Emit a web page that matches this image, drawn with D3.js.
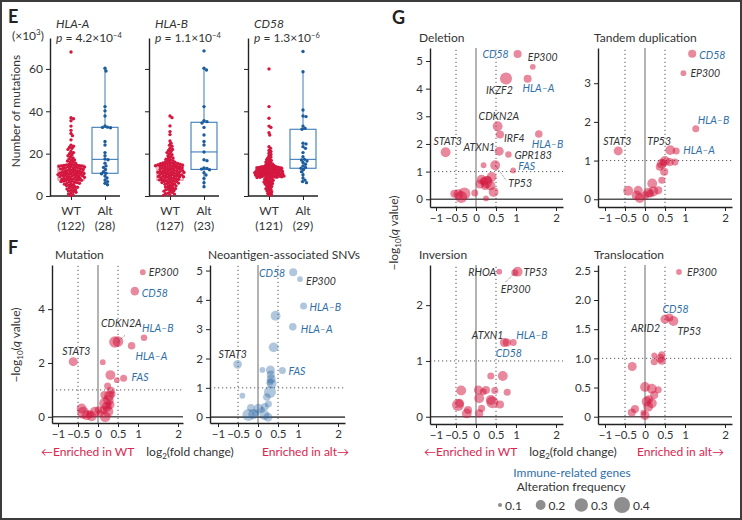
<!DOCTYPE html>
<html><head><meta charset="utf-8">
<script src="https://cdn.jsdelivr.net/npm/d3@7"></script>
<style>
body{margin:0;background:#fff}
svg{display:block;font-family:Lato,"Open Sans","DejaVu Sans",sans-serif}
</style></head>
<body><svg id="c" width="742" height="520"></svg>
<script>
// ---------- DATA: panel E (number of mutations, x10^3) ----------
const boxGenes = ["HLA-A", "HLA-B", "CD58"];
const boxPMant = ["4.2", "1.1", "1.3"];
const boxPExp = ["−4", "−4", "−6"];
const boxGroups = ["WT", "Alt"];
const nWT = [122, 127, 121];
const nAlt = [28, 23, 29];
const wtHLAA = [68,37,36.5,35.5,33,31,29.5,28.5,26.5,24,23.5,23,22.5,22,21,20.5,20,19.5,19,18.5,18,17.5,17,17,16.5,16,16,15.5,15,14.9,14.7,
 7.5,7.6,7.8,7.9,8.1,8.2,8.2,8.4,8.6,8.7,8.8,9.0,9.1,9.1,9.3,9.4,9.5,9.6,9.8,9.9,10.0,10.1,10.1,10.3,10.4,10.5,10.6,10.6,10.8,10.9,
 11.0,11.1,11.2,11.4,11.5,11.6,11.7,11.9,12.0,12.1,12.3,12.4,12.5,12.7,12.8,12.9,13.0,13.2,13.3,13.4,13.5,13.7,13.8,13.9,14.0,14.1,14.2,14.3,14.4,14.5,14.5,
 7.4,7.3,7.1,7.0,6.8,6.7,6.5,6.3,6.1,6.0,5.8,5.6,5.3,5.1,4.9,4.6,4.4,4.1,3.9,3.6,3.3,3.0,2.7,2.4,2.1,1.8,1.4,1.0,0.6,0.2];
const altHLAA = [5.3,6.0,6.8,7.5,8.5,9.5,10.5,10.8,11.5,12.5,13.5,14.2,15.5,17.1,17.5,19,20.5,24.1,25.7,32.2,32.4,32.5,33.1,37.8,40.2,42.2,59,60.3];
const wtHLAB = [37.8,37,33.1,30.4,29,26,24.9,24,23.5,22.5,22,21.5,21,20.5,20,19.5,19,18.5,18,17.8,17.4,17,16.7,16.5,16.2,16,15.8,15.6,15.5,15.4,15.3,15.2,
 7.6,7.7,7.9,8.0,8.2,8.3,8.4,8.6,8.7,8.9,9.0,9.1,9.2,9.4,9.5,9.6,9.7,9.9,10.0,10.1,10.2,10.4,10.5,10.6,10.7,10.8,11.0,11.1,11.2,11.3,
 11.5,11.6,11.7,11.8,12.0,12.1,12.2,12.4,12.5,12.6,12.8,12.9,13.0,13.1,13.3,13.4,13.5,13.6,13.8,13.9,14.0,14.1,14.2,14.3,14.4,14.5,14.6,14.7,14.8,14.9,15.0,9.3,11.4,
 7.4,7.2,7.1,6.9,6.8,6.6,6.4,6.2,6.1,5.9,5.7,5.5,5.2,5.0,4.8,4.5,4.3,4.0,3.8,3.5,3.2,2.9,2.6,2.3,2.0,1.7,1.3,0.9,0.5,0.3,1.1,3.0];
const altHLAB = [4.4,6.3,8.3,9.9,11.0,12.4,12.7,13.0,13.3,16.7,17.1,20.8,24.1,25.7,28.8,32.4,34.5,35.1,35.6,42.2,59.5,60.3,68.5];
const wtCD58 = [60,42.2,36.7,33,32.4,29.9,28.8,23.3,22.5,21.5,21,20.2,19.6,19,18.4,18,17.5,17.1,16.8,16.4,16,15.7,15.4,15.1,14.8,14.6,14.4,14.2,14.0,13.9,
 8.8,8.9,9.0,9.1,9.1,9.2,9.3,9.4,9.5,9.5,9.6,9.7,9.8,9.9,10.0,10.0,10.1,10.2,10.3,10.4,10.4,10.5,10.6,10.7,10.8,10.9,11.0,11.0,11.1,11.2,
 11.3,11.4,11.5,11.6,11.6,11.7,11.8,11.9,12.0,12.1,12.2,12.2,12.3,12.4,12.5,12.6,12.7,12.8,12.8,12.9,13.0,13.1,13.2,13.3,13.4,13.4,13.5,13.6,13.7,13.8,13.8,
 8.7,8.5,8.3,8.1,7.9,7.6,7.4,7.1,6.8,6.6,6.3,6.0,5.7,5.4,5.1,4.8,4.5,4.1,3.8,3.4,3.1,2.7,2.4,2.0,1.6,1.2,0.8,0.4,5.9,7.0];
const altCD58 = [6.3,6.8,7.5,8.5,10,11.5,12.5,13.1,13.5,14.2,15,15.8,16.5,17,17.3,18.5,20.5,22.5,23.3,24.6,24.9,31.5,32,33,37.5,37.8,40.6,58.7,68.2];
const eYTicks = [0, 20, 40, 60];

// ---------- DATA: volcano plots [log2FC, -log10 q, alteration frequency, gene] ----------
const mutationPts = [[1.12,5.37,0.12,"EP300"],[0.92,4.67,0.17,"CD58"],[1.15,2.94,0.13,"HLA–B"],[0.42,2.78,0.24,""],[0.5,2.8,0.22,"CDKN2A"],
 [0.84,2.64,0.15,"HLA–A"],[-0.62,2.05,0.18,"STAT3"],[0.12,2.03,0.12,""],[0.64,1.43,0.14,"FAS"],[0.31,1.55,0.2,""],[0.47,1.36,0.12,""],
 [0.24,1.14,0.14,""],[0.32,0.97,0.16,""],[0.16,0.81,0.16,""],[0.28,0.78,0.2,""],[0.26,0.62,0.22,""],[0.18,0.5,0.26,""],[0.3,0.45,0.18,""],
 [0.22,0.37,0.2,""],[0.14,0.25,0.16,""],[0.25,0.2,0.22,""],[-0.41,0.31,0.2,""],[-0.37,0.15,0.26,""],[-0.28,0.06,0.2,""],[-0.16,0.02,0.2,""],
 [-0.08,0.19,0.2,""],[0.01,0.25,0.15,""],[0.18,0.0,0.22,""],[-0.2,0.1,0.15,""],[0.05,0.12,0.14,""],[0.35,0.85,0.14,""]];
const neoPts = [[0.88,4.94,0.16,"CD58"],[1.05,4.71,0.12,"EP300"],[1.14,3.79,0.14,"HLA–B"],[0.44,3.46,0.2,""],[0.87,3.08,0.15,"HLA–A"],
 [0.39,2.38,0.2,""],[-0.51,1.8,0.17,"STAT3"],[0.61,1.59,0.14,"FAS"],[0.11,1.61,0.12,""],[0.31,1.61,0.18,""],[0.32,1.45,0.16,""],
 [0.33,1.3,0.18,""],[0.34,1.15,0.2,""],[0.3,1.2,0.14,""],[0.3,0.86,0.26,""],[-0.39,0.73,0.12,""],[0.22,0.69,0.15,""],[0.17,0.35,0.15,""],
 [0.26,0.45,0.14,""],[-0.18,0.32,0.15,""],[0.01,0.29,0.2,""],[-0.24,0.07,0.26,""],[-0.12,0.1,0.2,""],[0.16,0.07,0.2,""],[-0.05,0.15,0.14,""],
 [0.1,0.25,0.12,""],[0.25,0.0,0.18,""]];
const deletionPts = [[1.04,5.25,0.16,"CD58"],[1.42,4.79,0.12,"EP300"],[0.75,4.37,0.26,"IKZF2"],[1.29,4.36,0.16,"HLA–A"],[0.54,2.64,0.2,"CDKN2A"],
 [0.6,2.34,0.16,"IRF4"],[1.57,2.36,0.15,"HLA–B"],[-0.76,1.7,0.2,"STAT3"],[0.58,1.74,0.18,"ATXN1"],[0.81,1.62,0.13,"GPR183"],[0.19,1.23,0.12,""],
 [0.48,1.23,0.2,"TP53"],[0.93,1.04,0.12,"FAS"],[0.14,0.71,0.2,""],[0.26,0.62,0.26,""],[0.39,0.81,0.2,""],[0.1,0.55,0.18,""],[0.23,0.48,0.16,""],
 [0.36,0.5,0.2,""],[0.44,0.26,0.2,""],[-0.03,0.23,0.14,""],[0.25,0.03,0.12,""],[-0.44,0.18,0.2,""],[-0.29,0.21,0.26,""],[-0.54,0.2,0.16,""],
 [-0.37,0.08,0.26,""],[0.2,0.65,0.16,""],[0.3,0.7,0.15,""]];
const tandemPts = [[1.18,3.76,0.16,"CD58"],[0.96,3.26,0.12,"EP300"],[1.27,1.82,0.14,"HLA–B"],[-0.67,1.25,0.18,"STAT3"],[0.63,1.27,0.2,"TP53"],
 [0.78,1.25,0.14,"HLA–A"],[0.42,0.92,0.2,""],[0.5,0.99,0.2,""],[0.62,0.96,0.16,""],[0.75,0.96,0.14,""],[0.37,0.84,0.16,""],[0.48,0.71,0.16,""],
 [0.42,0.49,0.14,""],[0.18,0.41,0.2,""],[0.33,0.23,0.16,""],[0.21,0.2,0.2,""],[0.08,0.17,0.2,""],[-0.17,0.23,0.18,""],[-0.42,0.22,0.2,""],
 [-0.21,0.1,0.2,""],[-0.13,0.03,0.2,""],[0.0,0.1,0.16,""],[0.13,0.15,0.16,""],[0.45,0.95,0.14,""]];
const inversionPts = [[0.58,2.6,0.12,"RHOA"],[0.97,2.58,0.14,"EP300"],[1.04,2.6,0.2,"TP53"],[0.71,1.33,0.18,"ATXN1"],[0.77,1.33,0.16,"CD58"],
 [0.93,1.33,0.14,"HLA–B"],[0.67,0.73,0.2,""],[0.37,0.73,0.14,""],[-0.37,0.47,0.2,""],[0.06,0.48,0.18,""],[0.25,0.48,0.16,""],[0.47,0.47,0.14,""],
 [0.78,0.44,0.14,""],[0.08,0.33,0.2,""],[0.37,0.3,0.2,""],[0.41,0.26,0.26,""],[0.6,0.22,0.16,""],[-0.45,0.21,0.26,""],[-0.41,0.24,0.18,""],
 [-0.2,0.12,0.16,""],[-0.23,0.06,0.2,""],[0.14,0.15,0.14,""],[0.08,0.06,0.16,""],[0.18,0.45,0.14,""]];
const translocationPts = [[0.85,2.48,0.12,"EP300"],[0.61,1.7,0.16,"CD58"],[0.5,1.67,0.18,"ARID2"],[0.71,1.64,0.2,"TP53"],[0.42,1.06,0.14,""],
 [0.38,1.0,0.18,""],[0.23,0.94,0.14,""],[0.23,1.05,0.12,""],[0.42,0.96,0.16,""],[-0.32,0.86,0.18,""],[0.0,0.51,0.2,""],[0.17,0.48,0.2,""],
 [0.33,0.46,0.14,""],[0.23,0.37,0.16,""],[0.04,0.26,0.2,""],[0.17,0.23,0.2,""],[0.08,0.17,0.2,""],[-0.25,0.13,0.16,""],[-0.33,0.07,0.16,""],
 [0.0,0.02,0.18,""],[-0.04,0.07,0.12,""],[0.1,0.3,0.16,""]];
const immuneGenes = ["CD58", "HLA–A", "HLA–B", "FAS"];
const xTickVals = [-1, -0.5, 0, 0.5, 1, 2];
const legendFreq = [0.1, 0.2, 0.3, 0.4];

// ---------- DRAWING ----------
const svg = d3.select("#c");
const INK = "#333", BLUE = "#2f6fa7", RED = "#d9254f";
svg.append("rect").attr("x",1).attr("y",1).attr("width",740).attr("height",518)
  .attr("fill","#fff").attr("stroke","#3c3c3c").attr("stroke-width",2);

function txt(x, y, s, o = {}) {
  const t = svg.append("text").attr("x", x).attr("y", y).text(s)
    .attr("font-size", o.size || 12).attr("fill", o.fill || INK)
    .attr("text-anchor", o.anchor || "start");
  if (o.italic) t.attr("font-style", "italic");
  if (o.bold) t.attr("font-weight", "bold");
  return t;
}
txt(8, 23, "E", {size: 18, bold: true, fill: "#222"});
txt(8, 254, "F", {size: 18, bold: true, fill: "#222"});
txt(392, 24, "G", {size: 18, bold: true, fill: "#222"});

// ---------- Panel E ----------
const eY = d3.scaleLinear().domain([0, 74.6]).range([196, 38]);
const wtSets = [wtHLAA, wtHLAB, wtCD58], altSets = [altHLAA, altHLAB, altCD58];
const axisXs = [50, 149, 248];

function swarm(vals, y, diam, maxW) {
  const pts = vals.map(v => ({v, y: y(v)})).sort((a, b) => a.y - b.y);
  const placed = [];
  for (const p of pts) {
    let dx = 0;
    for (let k = 0; k < 400; k++) {
      const c = k === 0 ? 0 : (k % 2 ? 1 : -1) * Math.ceil(k / 2) * 0.5;
      let ok = true;
      for (const q of placed) {
        if (Math.abs(q.y - p.y) < diam && (q.dx - c) ** 2 + (q.y - p.y) ** 2 < diam * diam) { ok = false; break; }
      }
      if (ok) { dx = c; break; }
    }
    p.dx = dx; placed.push(p);
  }
  const m = d3.max(placed, p => Math.abs(p.dx)) || 1;
  const f = Math.min(1, maxW / m);
  placed.forEach(p => p.dx *= f);
  return placed;
}

const xt = txt(12, 40, "", {size: 12});
xt.append("tspan").text("(×10");
xt.append("tspan").attr("dy", -5).attr("font-size", 8).text("3");
xt.append("tspan").attr("dy", 5).text(")");
svg.append("text").attr("transform", "translate(20,111) rotate(-90)").attr("text-anchor", "middle")
  .attr("font-size", 12).attr("fill", INK).text("Number of mutations");

boxGenes.forEach((gene, i) => {
  const ax = axisXs[i];
  const g = svg.append("g");
  const xs = d3.scalePoint().domain(boxGroups).range([ax + 21, ax + 55]);
  const yAx = d3.axisLeft(eY).tickValues(eYTicks).tickSize(4).tickSizeOuter(0)
    .tickFormat(i === 0 ? d3.format("d") : () => "");
  const ya = g.append("g").attr("transform", `translate(${ax},0)`).call(yAx);
  ya.select(".domain").attr("stroke", "#222").attr("stroke-width", 1.4);
  ya.selectAll(".tick line").attr("stroke", "#222");
  ya.selectAll(".tick text").attr("font-size", 12).attr("fill", INK).attr("font-family", "Lato");
  const xa = g.append("g").attr("transform", "translate(0,196)")
    .call(d3.axisBottom(xs).tickSize(4).tickSizeOuter(0).tickFormat(""));
  xa.select(".domain").attr("d", `M${ax},0H${ax + 70}`).attr("stroke", "#222").attr("stroke-width", 1.4);
  xa.selectAll(".tick line").attr("stroke", "#222");
  txt(xs("WT"), 215, "WT", {anchor: "middle"});
  txt(xs("WT"), 230, `(${nWT[i]})`, {anchor: "middle"});
  txt(xs("Alt"), 215, "Alt", {anchor: "middle"});
  txt(xs("Alt"), 230, `(${nAlt[i]})`, {anchor: "middle"});
  txt(ax + 6, 28, gene, {italic: true, size: 12});
  const pt = txt(ax + 6, 42, "", {size: 12});
  pt.append("tspan").attr("font-style", "italic").text("p");
  pt.append("tspan").text(` = ${boxPMant[i]}×10`);
  pt.append("tspan").attr("dy", -4).attr("font-size", 7.5).text(boxPExp[i]);
  [[wtSets[i], "WT", "#e8768d", "#d4173f"], [altSets[i], "Alt", "#3d7db9", "#1d5c9c"]].forEach(([vals, grp, bc, pc]) => {
    const s = vals.slice().sort(d3.ascending);
    const q1 = d3.quantile(s, 0.25), md = d3.quantile(s, 0.5), q3 = d3.quantile(s, 0.75);
    const iqr = q3 - q1;
    const lo = d3.min(s.filter(v => v >= q1 - 1.5 * iqr)), hi = d3.max(s.filter(v => v <= q3 + 1.5 * iqr));
    const cx = xs(grp), w = 26;
    g.append("line").attr("x1", cx).attr("x2", cx).attr("y1", eY(q3)).attr("y2", eY(hi)).attr("stroke", bc);
    g.append("line").attr("x1", cx).attr("x2", cx).attr("y1", eY(q1)).attr("y2", eY(lo)).attr("stroke", bc);
    g.append("rect").attr("x", cx - w / 2).attr("width", w).attr("y", eY(q3)).attr("height", eY(q1) - eY(q3))
      .attr("fill", "none").attr("stroke", bc).attr("stroke-width", 1.1);
    g.append("line").attr("x1", cx - w / 2).attr("x2", cx + w / 2).attr("y1", eY(md)).attr("y2", eY(md)).attr("stroke", bc).attr("stroke-width", 1.1);
    const sw = swarm(vals, eY, grp === "WT" ? 2.4 : 2.8, grp === "WT" ? 15 : 11);
    g.selectAll(null).data(sw).join("circle").attr("cx", d => cx + d.dx).attr("cy", d => d.y).attr("r", 1.7).attr("fill", pc);
  });
});

// ---------- Volcano plots ----------
const rSize = v => Math.sqrt(Math.max(1, d3.scaleLinear().domain([0.1, 0.4]).range([4.4, 64])(v)));
const labelPos = {
  mutation: {EP300:[6,4,"start"], CD58:[7,6,"start"], "HLA–B":[-2,-6,"start"], CDKN2A:[-17,-14,"start"], "HLA–A":[4,14,"start"], STAT3:[-11,-7,"start"], FAS:[8,3,"start"]},
  neo: {CD58:[-8,5,"end"], EP300:[6,6,"start"], "HLA–B":[6,5,"start"], "HLA–A":[8,6,"start"], STAT3:[-19,-6,"start"], FAS:[6,4,"start"]},
  deletion: {CD58:[-9,4,"end"], EP300:[-5,-6,"start"], IKZF2:[-20,16,"start"], "HLA–A":[-5,13,"start"], CDKN2A:[-19,-6,"start"], IRF4:[4,7,"start"], "HLA–B":[-7,14,"start"], STAT3:[-12,-7,"start"], ATXN1:[-4,0,"end"], GPR183:[6,5,"start"], TP53:[13,22,"start"], FAS:[5,0,"start"]},
  tandem: {CD58:[7,5,"start"], EP300:[7,4,"start"], "HLA–B":[2,-5,"start"], STAT3:[-15,-6,"start"], TP53:[-23,-5,"start"], "HLA–A":[7,3,"start"]},
  inversion: {RHOA:[-3,4,"end"], TP53:[6,4,"start"], EP300:[-14,20,"start"], ATXN1:[-1,-4,"end"], CD58:[-11,14,"start"], "HLA–B":[3,-4,"start"]},
  translocation: {EP300:[8,4,"start"], CD58:[-7,-5,"start"], ARID2:[-5,13,"end"], TP53:[4,14,"start"]}
};
const leaders = {mutation: {CDKN2A:[7,-6]}, deletion: {TP53:[11,15]}, inversion: {EP300:[-10,10]}};

function volcano(key, pts, c) {
  const g = svg.append("g");
  const x = d3.scaleLinear().domain(c.xDom).range([c.left, c.right]);
  const y = d3.scaleLinear().domain(c.yDom).range([c.bottom, c.top]);
  const dot = "1.2,2.8";
  [-0.5, 0.5].forEach(v => g.append("line").attr("x1", x(v)).attr("x2", x(v)).attr("y1", c.bottom).attr("y2", c.top)
    .attr("stroke", "#555").attr("stroke-dasharray", dot));
  g.append("line").attr("x1", c.left).attr("x2", c.right).attr("y1", y(1)).attr("y2", y(1))
    .attr("stroke", "#555").attr("stroke-dasharray", dot);
  g.append("line").attr("x1", x(0)).attr("x2", x(0)).attr("y1", c.bottom).attr("y2", c.top).attr("stroke", "#8c8c8c").attr("stroke-width", 1.3);
  g.append("line").attr("x1", c.left).attr("x2", c.right).attr("y1", y(0)).attr("y2", y(0)).attr("stroke", "#555").attr("stroke-width", 1.6);
  g.selectAll("circle").data(pts.slice().sort((a, b) => b[2] - a[2])).join("circle")
    .attr("cx", d => x(d[0])).attr("cy", d => y(d[1])).attr("r", d => rSize(d[2]))
    .attr("fill", c.color).attr("fill-opacity", c.alpha);
  const xa = g.append("g").attr("transform", `translate(0,${c.bottom})`)
    .call(d3.axisBottom(x).tickValues(xTickVals).tickFormat(d3.format("~g")).tickSize(4).tickSizeOuter(0).tickPadding(3));
  const ya = g.append("g").attr("transform", `translate(${c.left},0)`)
    .call(d3.axisLeft(y).tickValues(c.yTicks).tickFormat(c.yFmt || d3.format("~g")).tickSize(4).tickSizeOuter(0).tickPadding(3));
  [xa, ya].forEach(a => {
    a.select(".domain").attr("stroke", "#222").attr("stroke-width", 1.4);
    a.selectAll(".tick line").attr("stroke", "#222");
    a.selectAll(".tick text").attr("font-size", 11.5).attr("fill", INK).attr("font-family", "Lato");
  });
  txt(c.left + c.titleDx, c.top - 6, c.title, {size: 12});
  pts.filter(d => d[3]).forEach(d => {
    const [dx, dy, anc] = labelPos[key][d[3]];
    const px = x(d[0]), py = y(d[1]);
    txt(px + dx, py + dy, d[3], {italic: true, size: 10.5, anchor: anc, fill: immuneGenes.includes(d[3]) ? BLUE : INK});
    const ld = (leaders[key] || {})[d[3]];
    if (ld) g.append("line").attr("x1", px).attr("y1", py).attr("x2", px + ld[0]).attr("y2", py + ld[1])
      .attr("stroke", "#444").attr("stroke-width", 0.7).attr("stroke-dasharray", "1,1");
  });
}
const redFill = "rgb(210,20,60)", blueFill = "rgb(40,100,160)";
volcano("mutation", mutationPts, {left:52, right:183, top:265, bottom:423, xDom:[-1.15,2.125], yDom:[-0.23,5.64], yTicks:[0,2,4], color:redFill, alpha:0.5, title:"Mutation", titleDx:3});
volcano("neo", neoPts, {left:210, right:345, top:265, bottom:423, xDom:[-1.2,2.175], yDom:[-0.2,5.19], yTicks:[0,1,2,3,4,5], color:blueFill, alpha:0.37, title:"Neoantigen-associated SNVs", titleDx:-2});
volcano("deletion", deletionPts, {left:430, right:563, top:48, bottom:207, xDom:[-1.15,2.175], yDom:[-0.28,5.47], yTicks:[0,1,2,3,4,5], color:redFill, alpha:0.5, title:"Deletion", titleDx:-11});
volcano("tandem", tandemPts, {left:598, right:732, top:48, bottom:207, xDom:[-1.175,2.175], yDom:[-0.2,3.91], yTicks:[0,1,2,3], color:redFill, alpha:0.5, title:"Tandem duplication", titleDx:-4});
volcano("inversion", inversionPts, {left:430, right:563, top:265, bottom:424, xDom:[-1.15,2.175], yDom:[-0.13,2.72], yTicks:[0,1,2], color:redFill, alpha:0.5, title:"Inversion", titleDx:-11});
volcano("translocation", translocationPts, {left:598, right:732, top:265, bottom:424, xDom:[-1.175,2.175], yDom:[-0.125,2.6], yTicks:[0,0.5,1,1.5,2,2.5], yFmt: v => v === 0 ? "0" : d3.format(".1f")(v), color:redFill, alpha:0.5, title:"Translocation", titleDx:-4});

function yLab(x, y) {
  const t = svg.append("text").attr("transform", `translate(${x},${y}) rotate(-90)`).attr("text-anchor", "middle")
    .attr("font-size", 12).attr("fill", INK);
  t.append("tspan").text("−log");
  t.append("tspan").attr("font-size", 8).attr("dy", 3).text("10");
  t.append("tspan").attr("dy", -3).text("(");
  t.append("tspan").attr("font-style", "italic").text("q");
  t.append("tspan").text(" value)");
}
yLab(20, 345);
yLab(398, 233);
function xLab(x, y) {
  const t = txt(x, y, "", {size: 12, anchor: "middle"});
  t.append("tspan").text("log");
  t.append("tspan").attr("font-size", 8).attr("dy", 3).text("2");
  t.append("tspan").attr("dy", -3).text("(fold change)");
}
xLab(190, 456);
xLab(573, 456);
txt(41, 456, "←Enriched in WT", {size: 12, fill: RED});
txt(349, 456, "Enriched in alt→", {size: 12, fill: RED, anchor: "end"});
txt(424, 456, "←Enriched in WT", {size: 12, fill: RED});
txt(724, 456, "Enriched in alt→", {size: 12, fill: RED, anchor: "end"});

txt(572, 477, "Immune-related genes", {size: 12, fill: BLUE, anchor: "middle"});
txt(571, 491, "Alteration frequency", {size: 12, anchor: "middle"});
const legX = d3.scalePoint().domain(legendFreq).range([500, 622]);
legendFreq.forEach(f => {
  svg.append("circle").attr("cx", legX(f)).attr("cy", 505).attr("r", rSize(f)).attr("fill", "#7a7a7a").attr("fill-opacity", 0.85);
  txt(legX(f) + rSize(f) + 3, 509.5, String(f), {size: 12});
});
</script></body></html>
